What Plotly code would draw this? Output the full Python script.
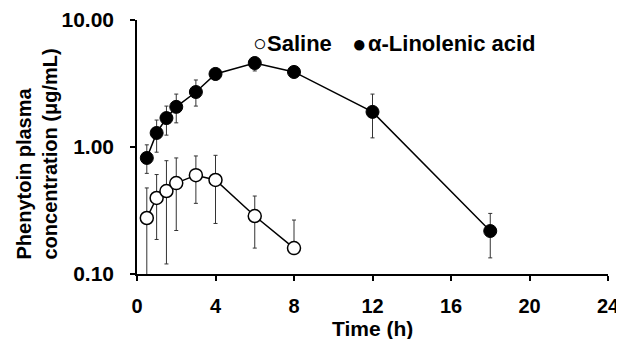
import plotly.graph_objects as go

time_ala = [0.5, 1, 1.5, 2, 3, 4, 6, 8, 12, 18]
ala_mean = [0.82, 1.29, 1.69, 2.07, 2.71, 3.76, 4.58, 3.90, 1.89, 0.218]
ala_sd_plus = [0.22, 0.34, 0.41, 0.54, 0.66, 0.43, 0.53, 0.40, 0.72, 0.082]
ala_sd_minus = [0.20, 0.38, 0.45, 0.52, 0.61, 0.39, 0.61, 0.40, 0.71, 0.084]

time_sal = [0.5, 1, 1.5, 2, 3, 4, 6, 8]
sal_mean = [0.276, 0.397, 0.45, 0.52, 0.60, 0.55, 0.286, 0.16]
sal_sd_plus = [0.20, 0.21, 0.33, 0.30, 0.25, 0.31, 0.125, 0.106]
sal_sd_minus = [0.20, 0.21, 0.33, 0.30, 0.24, 0.30, 0.126, 0.0]

y_tickvals = [0.1, 1, 10]
y_ticktext = ["0.10", "1.00", "10.00"]
x_tickvals = [0, 4, 8, 12, 16, 20, 24]

FONT = "Liberation Sans, Arial, sans-serif"

fig = go.Figure()
fig.add_trace(go.Scatter(
    x=time_ala, y=ala_mean, mode="lines+markers", name="α-Linolenic acid",
    line=dict(color="black", width=1.5),
    marker=dict(size=13, color="black", line=dict(color="black", width=1)),
    error_y=dict(type="data", symmetric=False, array=ala_sd_plus, arrayminus=ala_sd_minus,
                 color="#333333", thickness=1, width=2),
    showlegend=False))
fig.add_trace(go.Scatter(
    x=time_sal, y=sal_mean, mode="lines+markers", name="Saline",
    line=dict(color="black", width=1.5),
    marker=dict(size=13, color="white", line=dict(color="black", width=1.5)),
    error_y=dict(type="data", symmetric=False, array=sal_sd_plus, arrayminus=sal_sd_minus,
                 color="#333333", thickness=1, width=2),
    showlegend=False))

fig.update_layout(
    width=616, height=331,
    margin=dict(l=129, r=16, t=12, b=65),
    paper_bgcolor="white", plot_bgcolor="white",
    font=dict(family=FONT, color="black"),
    xaxis=dict(range=[0, 24], tickvals=x_tickvals, showline=True, linecolor="black",
               linewidth=1.5, ticks="outside", ticklen=5, tickcolor="black", tickwidth=1.5,
               showgrid=False, zeroline=False, ticklabelstandoff=8, automargin=False,
               tickfont=dict(family=FONT, size=20, color="black", weight="bold")),
    yaxis=dict(type="log", range=[-1, 1], tickvals=y_tickvals, ticktext=y_ticktext,
               showline=True, linecolor="black", linewidth=1.5, ticks="outside", ticklen=5,
               tickcolor="black", tickwidth=1.5, showgrid=False, zeroline=False,
               ticklabelstandoff=12, automargin=False,
               tickfont=dict(family=FONT, size=21, color="black", weight="bold")),
)

fig.add_annotation(text="Time (h)", xref="paper", yref="paper", x=0.5, y=0,
                   xanchor="center", yanchor="middle", yshift=-54, showarrow=False,
                   font=dict(family=FONT, size=21, weight="bold"))
fig.add_annotation(text="Phenytoin plasma<br>concentration (μg/mL)", xref="paper", yref="paper",
                   x=0, y=0, xanchor="center", yanchor="bottom", xshift=-101, yshift=12,
                   textangle=-90, align="left", showarrow=False,
                   font=dict(family=FONT, size=20, weight="bold"))

fig.add_annotation(text="○", xref="paper", yref="paper", x=0, y=1, xanchor="left", yanchor="middle",
                   xshift=251 - 137, yshift=-23, showarrow=False,
                   font=dict(family=FONT, size=23))
fig.add_annotation(text="Saline", xref="paper", yref="paper", x=0, y=1, xanchor="left", yanchor="middle",
                   xshift=265 - 137, yshift=-23, showarrow=False,
                   font=dict(family=FONT, size=22, weight="bold"))
fig.add_annotation(text="●", xref="paper", yref="paper", x=0, y=1, xanchor="left", yanchor="middle",
                   xshift=350 - 137, yshift=-23, showarrow=False,
                   font=dict(family=FONT, size=24))
fig.add_annotation(text="α-Linolenic acid", xref="paper", yref="paper", x=0, y=1, xanchor="left",
                   yanchor="middle", xshift=366 - 137, yshift=-23, showarrow=False,
                   font=dict(family=FONT, size=22, weight="bold"))

fig.write_html("out.html")
